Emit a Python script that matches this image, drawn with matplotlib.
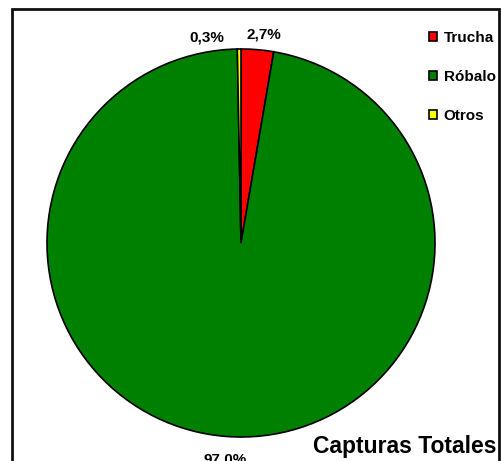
import numpy as np
import matplotlib.pyplot as plt
from matplotlib.patches import Rectangle

plt.rcParams['font.family'] = ['Liberation Sans', 'DejaVu Sans']

categories = ['Trucha', 'Róbalo', 'Otros']
values = [2.7, 97.0, 0.3]
colors = ['#FF0000', '#008000', '#FFFF00']
title = 'Capturas Totales'

W, H = 502, 461
fig = plt.figure(figsize=(W / 100, H / 100), dpi=100)
ax = fig.add_axes([0, 0, 1, 1])
ax.axis('off')

cx, cy, R = 241, 243, 194
wedges, _ = ax.pie(values, colors=colors, startangle=90, counterclock=False,
                   radius=1, center=(0, 0),
                   wedgeprops=dict(edgecolor='black', linewidth=1.2))
ax.set_xlim(-cx / R, (W - cx) / R)
ax.set_ylim(-(H - cy) / R, cy / R)
ax.set_aspect('equal')

# percentage labels
nudges = [(0.025, -0.02), (0.0, 0.0), (-0.165, -0.04)]
radii = [1.10, 1.12, 1.10]
for w, v, (nx, ny), r in zip(wedges, values, nudges, radii):
    ang = np.deg2rad((w.theta1 + w.theta2) / 2)
    x, y = r * np.cos(ang) + nx, r * np.sin(ang) + ny
    ax.text(x, y, f'{v:.1f}%'.replace('.', ','), ha='center', va='center',
            fontsize=11, fontweight='bold', clip_on=False)

leg = ax.legend(wedges, categories, loc='upper left',
                bbox_to_anchor=(421 / W, 1 - 23 / H), bbox_transform=fig.transFigure,
                frameon=False, handlelength=0.53, handleheight=0.53,
                handletextpad=0.45, labelspacing=1.65, borderpad=0,
                prop=dict(weight='bold', size=11))

fig.text(405 / W, 1 - 446 / H, title, ha='center', va='center',
         fontsize=16.5, fontweight='bold')

fig.patches.append(Rectangle((12.5 / W, -0.1), (499.5 - 12.5) / W, 1.1 - 9.5 / H,
                             transform=fig.transFigure, fill=False,
                             edgecolor='#111111', linewidth=2))

fig.savefig('out.png', dpi=100)
